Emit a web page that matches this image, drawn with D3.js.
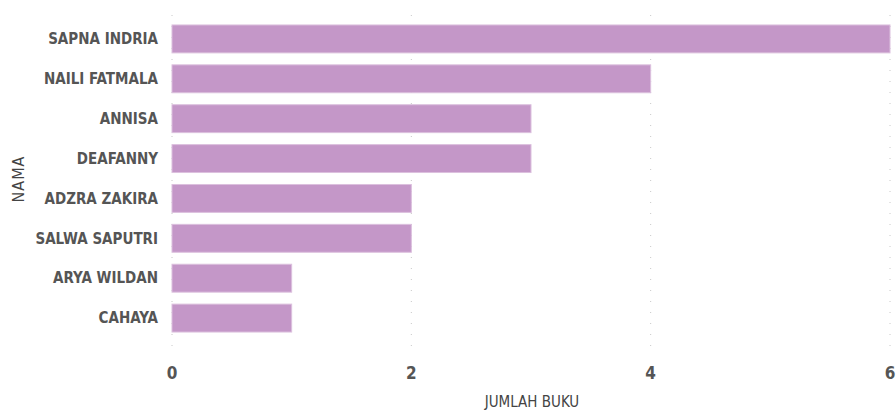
<!DOCTYPE html>
<html>
<head>
<meta charset="utf-8">
<script src="https://cdn.jsdelivr.net/npm/d3@7"></script>
<style>
  body { margin: 0; background: #fff; }
  svg { display: block; }
</style>
</head>
<body>
<div id="chart"></div>
<script>
var names  = ["SAPNA INDRIA", "NAILI FATMALA", "ANNISA", "DEAFANNY", "ADZRA ZAKIRA", "SALWA SAPUTRI", "ARYA WILDAN", "CAHAYA"];
var counts = [6, 4, 3, 3, 2, 2, 1, 1];
var xTicks = [0, 2, 4, 6];

var width = 896, height = 410;
var font = "'DejaVu Sans Condensed', 'DejaVu Sans', sans-serif";

var svg = d3.select("#chart").append("svg")
  .attr("width", width)
  .attr("height", height);

var x = d3.scaleLinear().domain([0, 6]).range([172, 890]);
var y = d3.scaleBand().domain(names).range([13, 344]).paddingInner(0.3).paddingOuter(0.3);

// dotted gridlines
svg.append("g").selectAll("line")
  .data(xTicks)
  .enter().append("line")
  .attr("x1", function(d){ return x(d); })
  .attr("x2", function(d){ return x(d); })
  .attr("y1", 15)
  .attr("y2", 356)
  .attr("stroke", "#c8c8c8")
  .attr("stroke-width", 1)
  .attr("stroke-dasharray", "1,10");

// bars
svg.append("g").selectAll("rect")
  .data(names)
  .enter().append("rect")
  .attr("x", x(0))
  .attr("y", function(d){ return y(d); })
  .attr("width", function(d, i){ return x(counts[i]) - x(0); })
  .attr("height", y.bandwidth())
  .attr("fill", "#c497c8")
  .attr("stroke", "#dcc0de")
  .attr("stroke-width", 1);

// category labels
svg.append("g").selectAll("text")
  .data(names)
  .enter().append("text")
  .attr("x", 158)
  .attr("y", function(d){ return y(d) + y.bandwidth() / 2; })
  .attr("dy", "0.35em")
  .attr("text-anchor", "end")
  .attr("font-family", font)
  .attr("font-weight", "bold")
  .attr("font-size", 15)
  .attr("fill", "#555")
  .text(function(d){ return d; });

// x tick labels
svg.append("g").selectAll("text")
  .data(xTicks)
  .enter().append("text")
  .attr("x", function(d){ return x(d); })
  .attr("y", 379)
  .attr("text-anchor", "middle")
  .attr("font-family", font)
  .attr("font-weight", "bold")
  .attr("font-size", 17)
  .attr("fill", "#555")
  .text(function(d){ return d; });

// axis titles
svg.append("text")
  .attr("x", 532)
  .attr("y", 407)
  .attr("text-anchor", "middle")
  .attr("font-family", font)
  .attr("font-size", 15)
  .attr("fill", "#444")
  .text("JUMLAH BUKU");

svg.append("text")
  .attr("transform", "translate(24,179) rotate(-90)")
  .attr("text-anchor", "middle")
  .attr("font-family", font)
  .attr("font-size", 16)
  .attr("letter-spacing", 1)
  .attr("fill", "#444")
  .text("NAMA");
</script>
</body>
</html>
